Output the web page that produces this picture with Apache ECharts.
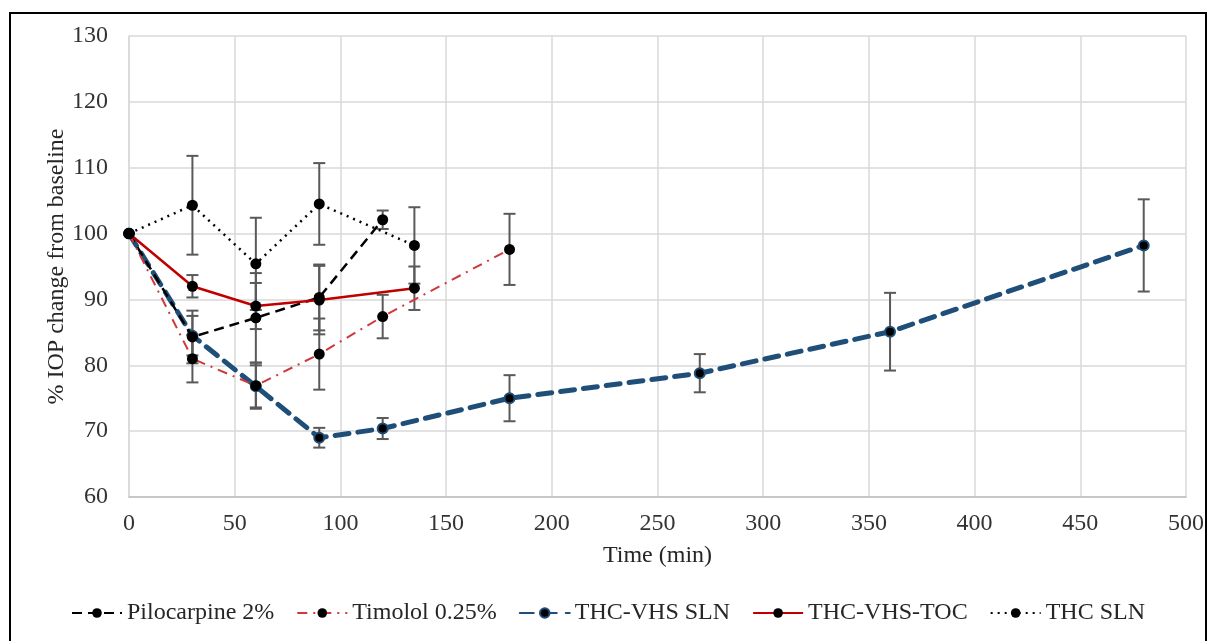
<!DOCTYPE html>
<html>
<head>
<meta charset="utf-8">
<script src="https://cdn.jsdelivr.net/npm/echarts@6/dist/echarts.min.js"></script>
<style>
  html, body { margin: 0; padding: 0; background: #fff; }
  #chart { width: 1216px; height: 641px; }
</style>
</head>
<body>
<div id="chart"></div>
<script>
// Time points (min) and mean % IOP change, with standard deviations
const piloTime = [0, 30, 60, 90, 120];
const piloVal  = [100, 84.3, 87.2, 90.3, 102.1];
const piloErr  = [0, 4.0, 6.8, 5.0, 1.4];

const timoTime = [0, 30, 60, 90, 120, 180];
const timoVal  = [100, 81.0, 76.9, 81.7, 87.4, 97.6];
const timoErr  = [0, 3.6, 3.5, 5.4, 3.3, 5.4];

const vhsTime = [0, 30, 60, 90, 120, 180, 270, 360, 480];
const vhsVal  = [100, 84.5, 76.8, 69.0, 70.4, 75.0, 78.8, 85.1, 98.2];
const vhsErr  = [0, 3.0, 3.2, 1.5, 1.6, 3.5, 2.9, 5.9, 7.0];

const tocTime = [0, 30, 60, 90, 135];
const tocVal  = [100, 92.0, 89.0, 89.9, 91.7];
const tocErr  = [0, 1.7, 3.5, 5.2, 3.3];

const slnTime = [0, 30, 60, 90, 135];
const slnVal  = [100, 104.3, 95.4, 104.5, 98.2];
const slnErr  = [0, 7.5, 7.0, 6.2, 5.8];

const seriesNames = ['Pilocarpine 2%', 'Timolol 0.25%', 'THC-VHS SLN', 'THC-VHS-TOC', 'THC SLN'];

const xTicks = { min: 0, max: 500, interval: 50 };
const yTicks = { min: 60, max: 130, interval: 10 };

const serif = 'Liberation Serif';
const fontSize = 24;

function pairs(t, v) { return t.map((x, i) => [x, v[i]]); }
function errRows(t, v, e) {
  return t.map((x, i) => [x, v[i] - e[i], v[i] + e[i]]).filter((r, i) => e[i] > 0);
}

function errorSeries(t, v, e) {
  return {
    type: 'custom',
    z: 1,
    silent: true,
    legendHoverLink: false,
    data: errRows(t, v, e),
    encode: { x: 0, y: [1, 2] },
    renderItem: function (params, api) {
      const x = api.value(0);
      const lo = api.coord([x, api.value(1)]);
      const hi = api.coord([x, api.value(2)]);
      const w = 6;
      const style = { stroke: '#595959', lineWidth: 2 };
      return {
        type: 'group',
        children: [
          { type: 'line', shape: { x1: lo[0], y1: lo[1], x2: hi[0], y2: hi[1] }, style },
          { type: 'line', shape: { x1: hi[0] - w, y1: hi[1], x2: hi[0] + w, y2: hi[1] }, style },
          { type: 'line', shape: { x1: lo[0] - w, y1: lo[1], x2: lo[0] + w, y2: lo[1] }, style }
        ]
      };
    }
  };
}

const marker = { color: '#000', borderColor: '#000', borderWidth: 0 };

const chart = echarts.init(document.getElementById('chart'), null, { renderer: 'canvas' });
chart.setOption({
  animation: false,
  backgroundColor: '#fff',
  graphic: [{
    type: 'rect',
    shape: { x: 10, y: 13, width: 1196, height: 660 },
    style: { fill: 'none', stroke: '#000', lineWidth: 2 },
    silent: true,
    z: 100
  }],
  grid: { left: 129, right: 30, top: 36, bottom: 144 },
  legend: {
    data: seriesNames,
    bottom: 11,
    left: 'center',
    itemWidth: 50,
    itemHeight: 12,
    itemGap: 22,
    textStyle: { fontFamily: serif, fontSize: fontSize, color: '#262626' }
  },
  xAxis: {
    type: 'value',
    min: xTicks.min, max: xTicks.max, interval: xTicks.interval,
    name: 'Time (min)',
    nameLocation: 'middle',
    nameGap: 47,
    nameMoveOverlap: false,
    nameTextStyle: { fontFamily: serif, fontSize: fontSize, color: '#262626' },
    axisLine: { show: true, lineStyle: { color: '#bfbfbf', width: 1.5 } },
    axisTick: { show: false },
    axisLabel: { fontFamily: serif, fontSize: fontSize, color: '#333', margin: 15 },
    splitLine: { show: true, lineStyle: { color: '#d9d9d9', width: 1.5 } }
  },
  yAxis: {
    type: 'value',
    min: yTicks.min, max: yTicks.max, interval: yTicks.interval,
    name: '% IOP change from baseline',
    nameLocation: 'middle',
    nameGap: 60,
    nameMoveOverlap: false,
    nameTextStyle: { fontFamily: serif, fontSize: fontSize, color: '#262626' },
    axisLine: { show: true, lineStyle: { color: '#d9d9d9', width: 1.5 } },
    axisTick: { show: false },
    axisLabel: { fontFamily: serif, fontSize: fontSize, color: '#333', margin: 21 },
    splitLine: { show: true, lineStyle: { color: '#d9d9d9', width: 1.5 } }
  },
  series: [
    errorSeries(piloTime, piloVal, piloErr),
    errorSeries(timoTime, timoVal, timoErr),
    errorSeries(vhsTime, vhsVal, vhsErr),
    errorSeries(tocTime, tocVal, tocErr),
    errorSeries(slnTime, slnVal, slnErr),
    {
      name: seriesNames[0], type: 'line', z: 3,
      data: pairs(piloTime, piloVal),
      symbol: 'circle', symbolSize: 11,
      itemStyle: marker,
      lineStyle: { color: '#000', width: 2.5, type: [10, 6] }
    },
    {
      name: seriesNames[1], type: 'line', z: 3,
      data: pairs(timoTime, timoVal),
      symbol: 'circle', symbolSize: 11,
      itemStyle: marker,
      lineStyle: { color: '#d0393b', width: 2, type: [10, 6, 2, 6] }
    },
    {
      name: seriesNames[2], type: 'line', z: 2,
      data: pairs(vhsTime, vhsVal),
      symbol: 'circle', symbolSize: 10,
      itemStyle: { color: '#000', borderColor: '#1f4e79', borderWidth: 2 },
      lineStyle: { color: '#1f4e79', width: 5, type: [14, 9], cap: 'round' }
    },
    {
      name: seriesNames[3], type: 'line', z: 3,
      data: pairs(tocTime, tocVal),
      symbol: 'circle', symbolSize: 11,
      itemStyle: marker,
      lineStyle: { color: '#c00000', width: 2.5 }
    },
    {
      name: seriesNames[4], type: 'line', z: 3,
      data: pairs(slnTime, slnVal),
      symbol: 'circle', symbolSize: 11,
      itemStyle: marker,
      lineStyle: { color: '#000', width: 2.5, type: [2, 5] }
    }
  ]
});
</script>
</body>
</html>
